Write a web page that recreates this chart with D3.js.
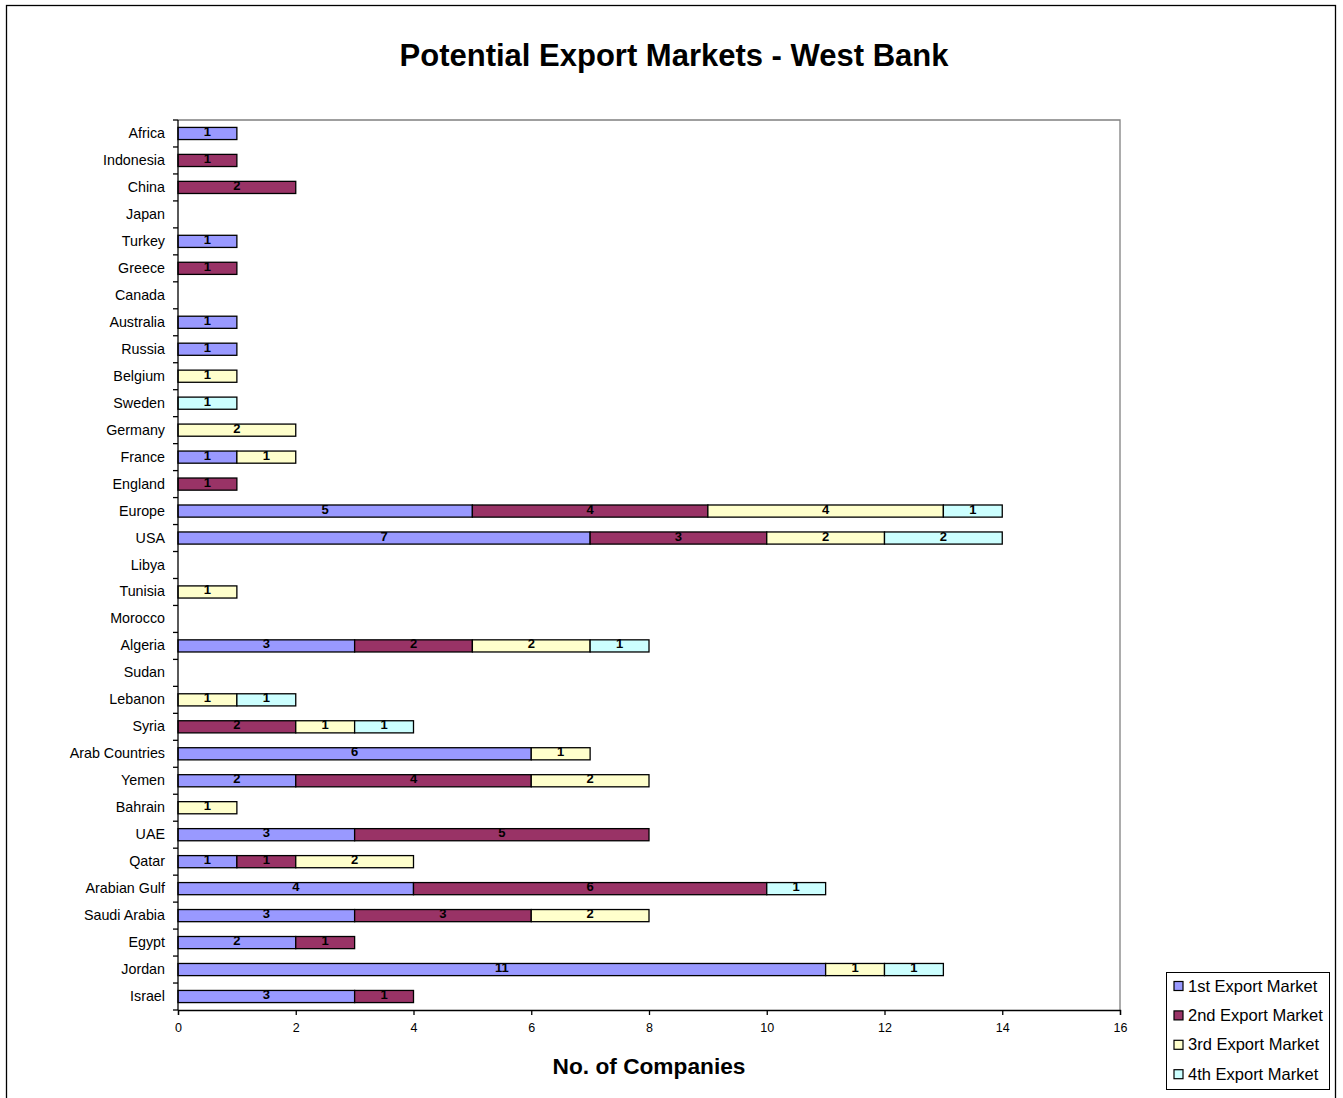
<!DOCTYPE html>
<html>
<head>
<meta charset="utf-8">
<script src="https://cdn.jsdelivr.net/npm/d3@7"></script>
<style>
  body { margin: 0; background: #fff; }
  svg { display: block; font-family: "Liberation Sans", Arial, sans-serif; }
</style>
</head>
<body>
<svg id="chart" width="1343" height="1098"></svg>
<script>
// Markets listed top to bottom
const markets = ["Africa","Indonesia","China","Japan","Turkey","Greece","Canada","Australia",
  "Russia","Belgium","Sweden","Germany","France","England","Europe","USA","Libya","Tunisia",
  "Morocco","Algeria","Sudan","Lebanon","Syria","Arab Countries","Yemen","Bahrain","UAE",
  "Qatar","Arabian Gulf","Saudi Arabia","Egypt","Jordan","Israel"];

const seriesNames = ["1st Export Market","2nd Export Market","3rd Export Market","4th Export Market"];

// Number of companies per market, one array per rank
const first  = [1,0,0,0,1,0,0,1,1,0,0,0,1,0,5,7,0,0,0,3,0,0,0,6,2,0,3,1,4,3,2,11,3];
const second = [0,1,2,0,0,1,0,0,0,0,0,0,0,1,4,3,0,0,0,2,0,0,2,0,4,0,5,1,6,3,1,0,1];
const third  = [0,0,0,0,0,0,0,0,0,1,0,2,1,0,4,2,0,1,0,2,0,1,1,1,2,1,0,2,0,2,0,1,0];
const fourth = [0,0,0,0,0,0,0,0,0,0,1,0,0,0,1,2,0,0,0,1,0,1,1,0,0,0,0,0,1,0,0,1,0];

const xTicks = [0,2,4,6,8,10,12,14,16];
const colors = ["#9999FF","#993366","#FFFFCC","#CCFFFF"];

const svg = d3.select("#chart");

// outer frame
svg.append("rect").attr("x", 6.5).attr("y", 5.5).attr("width", 1329).attr("height", 1100)
  .attr("fill", "#fff").attr("stroke", "#000").attr("stroke-width", 1.3);

const plot = { left: 178, right: 1120, top: 120, bottom: 1010 };

const x = d3.scaleLinear().domain([0, 16]).range([plot.left, plot.right]);
const y = d3.scaleBand().domain(markets).range([plot.top, plot.bottom]).paddingInner(0.55).paddingOuter(0.275);
const yOuter = d3.scaleBand().domain(markets).range([plot.top, plot.bottom]);

// title
svg.append("text").attr("x", 674).attr("y", 66).attr("text-anchor", "middle")
  .attr("font-size", 31).attr("font-weight", "bold").text("Potential Export Markets - West Bank");

// plot area frame (top and right edges)
svg.append("path")
  .attr("d", `M${plot.left},${plot.top}H${plot.right}V${plot.bottom}`)
  .attr("fill", "none").attr("stroke", "#808080").attr("stroke-width", 1.3);

// stacked data
const table = markets.map((m, i) => ({ market: m, s0: first[i], s1: second[i], s2: third[i], s3: fourth[i] }));
const stack = d3.stack().keys(["s0","s1","s2","s3"])(table);

const layers = svg.append("g").selectAll("g").data(stack).join("g")
  .attr("fill", (d, i) => colors[i]);

layers.selectAll("rect").data(d => d.filter(p => p[1] - p[0] > 0)).join("rect")
  .attr("x", d => x(d[0]))
  .attr("y", d => y(d.data.market))
  .attr("width", d => x(d[1]) - x(d[0]))
  .attr("height", y.bandwidth())
  .attr("stroke", "#000").attr("stroke-width", 1.3);

layers.selectAll("text").data(d => d.filter(p => p[1] - p[0] > 0)).join("text")
  .attr("x", d => (x(d[0]) + x(d[1])) / 2)
  .attr("y", d => y(d.data.market) + y.bandwidth() / 2 + 2.5)
  .attr("text-anchor", "middle")
  .attr("fill", "#000").attr("font-size", 13).attr("font-weight", "bold")
  .text(d => d[1] - d[0]);

// y axis with ticks at band boundaries
const yAxis = svg.append("g");
yAxis.append("line").attr("x1", plot.left).attr("x2", plot.left)
  .attr("y1", plot.top).attr("y2", plot.bottom).attr("stroke", "#000").attr("stroke-width", 1.3);
yAxis.selectAll("line.tick").data(markets.concat(["_end"])).join("line").attr("class", "tick")
  .attr("x1", plot.left - 5).attr("x2", plot.left)
  .attr("y1", (d, i) => plot.top + i * yOuter.step())
  .attr("y2", (d, i) => plot.top + i * yOuter.step())
  .attr("stroke", "#000").attr("stroke-width", 1.3);
yAxis.selectAll("text").data(markets).join("text")
  .attr("x", 165).attr("y", d => yOuter(d) + yOuter.bandwidth() / 2 + 4.5)
  .attr("text-anchor", "end").attr("font-size", 14.3).text(d => d);

// x axis
const xAxis = svg.append("g").attr("transform", `translate(0,${plot.bottom})`)
  .call(d3.axisBottom(x).tickValues(xTicks).tickSize(5).tickPadding(8).tickFormat(d3.format("d")));
xAxis.select(".domain").attr("stroke", "#000").attr("stroke-width", 1.3);
xAxis.selectAll(".tick line").attr("stroke", "#000").attr("stroke-width", 1.3);
xAxis.selectAll(".tick text").attr("font-size", 12.5).attr("font-family", "Liberation Sans, Arial, sans-serif").attr("fill", "#000");

svg.append("text").attr("x", 649).attr("y", 1074).attr("text-anchor", "middle")
  .attr("font-size", 22.7).attr("font-weight", "bold").text("No. of Companies");

// legend
const lg = svg.append("g");
lg.append("rect").attr("x", 1166.5).attr("y", 972.5).attr("width", 163).attr("height", 117)
  .attr("fill", "#fff").attr("stroke", "#000").attr("stroke-width", 1);
const items = lg.selectAll("g").data(seriesNames).join("g")
  .attr("transform", (d, i) => `translate(1174,${986 + i * 29.4})`);
items.append("rect").attr("x", 0).attr("y", -4.5).attr("width", 9).attr("height", 9)
  .attr("fill", (d, i) => colors[i]).attr("stroke", "#000").attr("stroke-width", 1.2);
items.append("text").attr("x", 14).attr("y", 5.5).attr("font-size", 16.5).text(d => d);
</script>
</body>
</html>
